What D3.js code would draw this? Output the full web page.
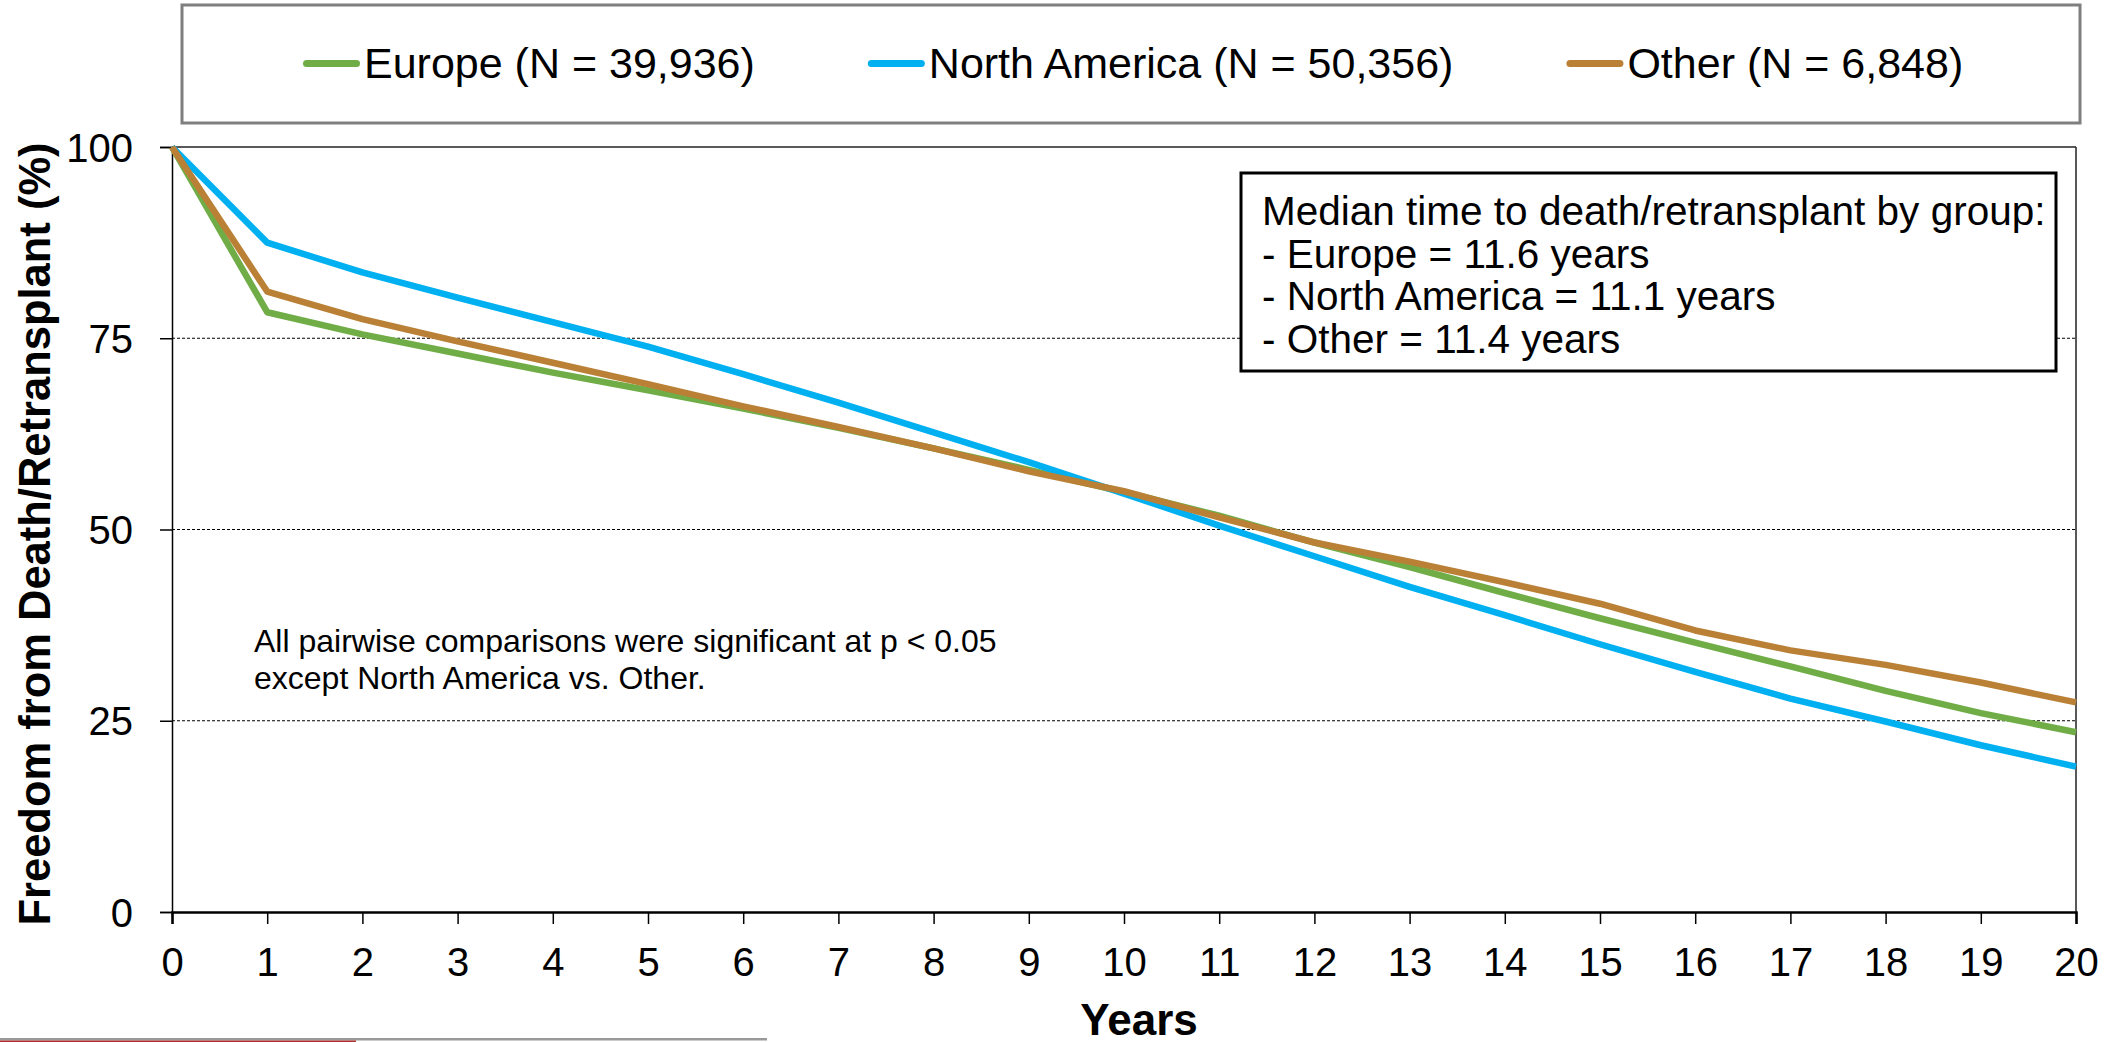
<!DOCTYPE html>
<html>
<head>
<meta charset="utf-8">
<script src="https://cdn.jsdelivr.net/npm/d3@7"></script>
<style>
  html, body { margin: 0; padding: 0; background: #fff; }
  svg { display: block; }
  text { font-family: "Liberation Sans", Arial, sans-serif; fill: #000; }
</style>
</head>
<body>
<svg id="chart" width="2121" height="1042"></svg>
<script>
// ---- Data ----
const years = [0,1,2,3,4,5,6,7,8,9,10,11,12,13,14,15,16,17,18,19,20];
const europe = [100,78.4,75.5,73.0,70.5,68.2,65.8,63.3,60.6,57.8,54.9,51.8,48.3,45.1,41.7,38.4,35.2,32.1,28.9,26.0,23.5];
const northAmerica = [100,87.5,83.6,80.3,77.1,73.9,70.3,66.6,62.7,58.8,54.7,50.5,46.5,42.5,38.8,35.0,31.4,27.9,24.9,21.8,19.0];
const other = [100,81.1,77.5,74.6,71.8,69.0,66.1,63.4,60.6,57.6,55.0,51.6,48.3,45.8,43.1,40.3,36.8,34.2,32.3,30.0,27.4];
const seriesNames = ["Europe (N = 39,936)", "North America (N = 50,356)", "Other (N = 6,848)"];
const seriesColors = ["#70AD47", "#00B0F0", "#B98036"];
const yTicks = [0,25,50,75,100];
const gridValues = [25,50,75];
const medianLines = ["Median time to death/retransplant by group:", "- Europe = 11.6 years", "- North America = 11.1 years", "- Other = 11.4 years"];
const noteLines = ["All pairwise comparisons were significant at p < 0.05", "except North America vs. Other."];
const yTitle = "Freedom from Death/Retransplant (%)";
const xTitle = "Years";

const series = [europe, northAmerica, other];

// ---- Layout ----
const svg = d3.select("#chart");
const L = 172, R = 2076, T = 147, B = 912;
const x = d3.scaleLinear().domain([0,20]).range([L,R]);
const y = d3.scaleLinear().domain([0,100]).range([B,T]);

// gridlines
svg.append("g").selectAll("line").data(gridValues).join("line")
  .attr("x1", L).attr("x2", R)
  .attr("y1", d => y(d)).attr("y2", d => y(d))
  .attr("stroke", "#000").attr("stroke-width", 1).attr("stroke-dasharray", "3,2");

// plot border top / right
svg.append("line").attr("x1", L).attr("x2", R).attr("y1", T).attr("y2", T)
  .attr("stroke", "#222").attr("stroke-width", 1.5);
svg.append("line").attr("x1", R).attr("x2", R).attr("y1", T).attr("y2", B)
  .attr("stroke", "#222").attr("stroke-width", 1.5);

// y axis
const yAxis = svg.append("g").attr("transform", `translate(${L},0)`)
  .call(d3.axisLeft(y).tickValues(yTicks).tickSize(12).tickPadding(27).tickFormat(d3.format("d")));
yAxis.select(".domain").attr("stroke", "#000").attr("stroke-width", 1.5);
yAxis.selectAll(".tick line").attr("stroke", "#000").attr("stroke-width", 1.5);
yAxis.selectAll("text").attr("font-size", 40).attr("font-family", "'Liberation Sans', Arial, sans-serif").attr("dy", "0.35em");

// x axis
const xAxis = svg.append("g").attr("transform", `translate(0,${B})`)
  .call(d3.axisBottom(x).tickValues(years).tickSize(12).tickPadding(24).tickFormat(d3.format("d")));
xAxis.select(".domain").attr("stroke", "#000").attr("stroke-width", 2.5);
xAxis.selectAll(".tick line").attr("stroke", "#000").attr("stroke-width", 1.5);
xAxis.selectAll("text").attr("font-size", 40).attr("font-family", "'Liberation Sans', Arial, sans-serif");

// lines
const lineGen = d3.line().x((d,i) => x(years[i])).y(d => y(d));
svg.append("g").selectAll("path").data(series).join("path")
  .attr("d", d => lineGen(d))
  .attr("fill", "none")
  .attr("stroke", (d,i) => seriesColors[i])
  .attr("stroke-width", 6.5)
  .attr("stroke-linejoin", "round")
  .attr("stroke-linecap", "butt");

// axis titles
svg.append("text").attr("transform", "translate(50,534) rotate(-90)")
  .attr("text-anchor", "middle").attr("font-size", 43.5).attr("font-weight", "bold").text(yTitle);
svg.append("text").attr("x", 1139).attr("y", 1035)
  .attr("text-anchor", "middle").attr("font-size", 44).attr("font-weight", "bold").text(xTitle);

// legend box
svg.append("rect").attr("x", 182).attr("y", 5).attr("width", 2080-182).attr("height", 123-5)
  .attr("fill", "none").attr("stroke", "#7F7F7F").attr("stroke-width", 3);
let lx = 303;
seriesNames.forEach((name, i) => {
  svg.append("line").attr("x1", lx + 3.5).attr("x2", lx + 57 - 3.5).attr("y1", 63.5).attr("y2", 63.5)
    .attr("stroke", seriesColors[i]).attr("stroke-width", 7).attr("stroke-linecap", "round");
  const t = svg.append("text").attr("x", lx + 61).attr("y", 78).attr("font-size", 43).text(name);
  const w = t.node().getComputedTextLength();
  lx = lx + 61 + w + 113;
});

// median box
svg.append("rect").attr("x", 1241).attr("y", 173).attr("width", 2056-1241).attr("height", 371-173)
  .attr("fill", "#fff").attr("stroke", "#000").attr("stroke-width", 3);
svg.append("g").selectAll("text").data(medianLines).join("text")
  .attr("x", 1262).attr("y", (d,i) => 225 + i*42.7)
  .attr("font-size", 40.5).text(d => d);

// note
svg.append("g").selectAll("text").data(noteLines).join("text")
  .attr("x", 254).attr("y", (d,i) => 651.5 + i*37.7)
  .attr("font-size", 32).text(d => d);

// bottom slide artifact
svg.append("rect").attr("x", 0).attr("y", 1038).attr("width", 767).attr("height", 2.5).attr("fill", "#999");
svg.append("rect").attr("x", 0).attr("y", 1040.5).attr("width", 356).attr("height", 1.5).attr("fill", "#B03030");
</script>
</body>
</html>
